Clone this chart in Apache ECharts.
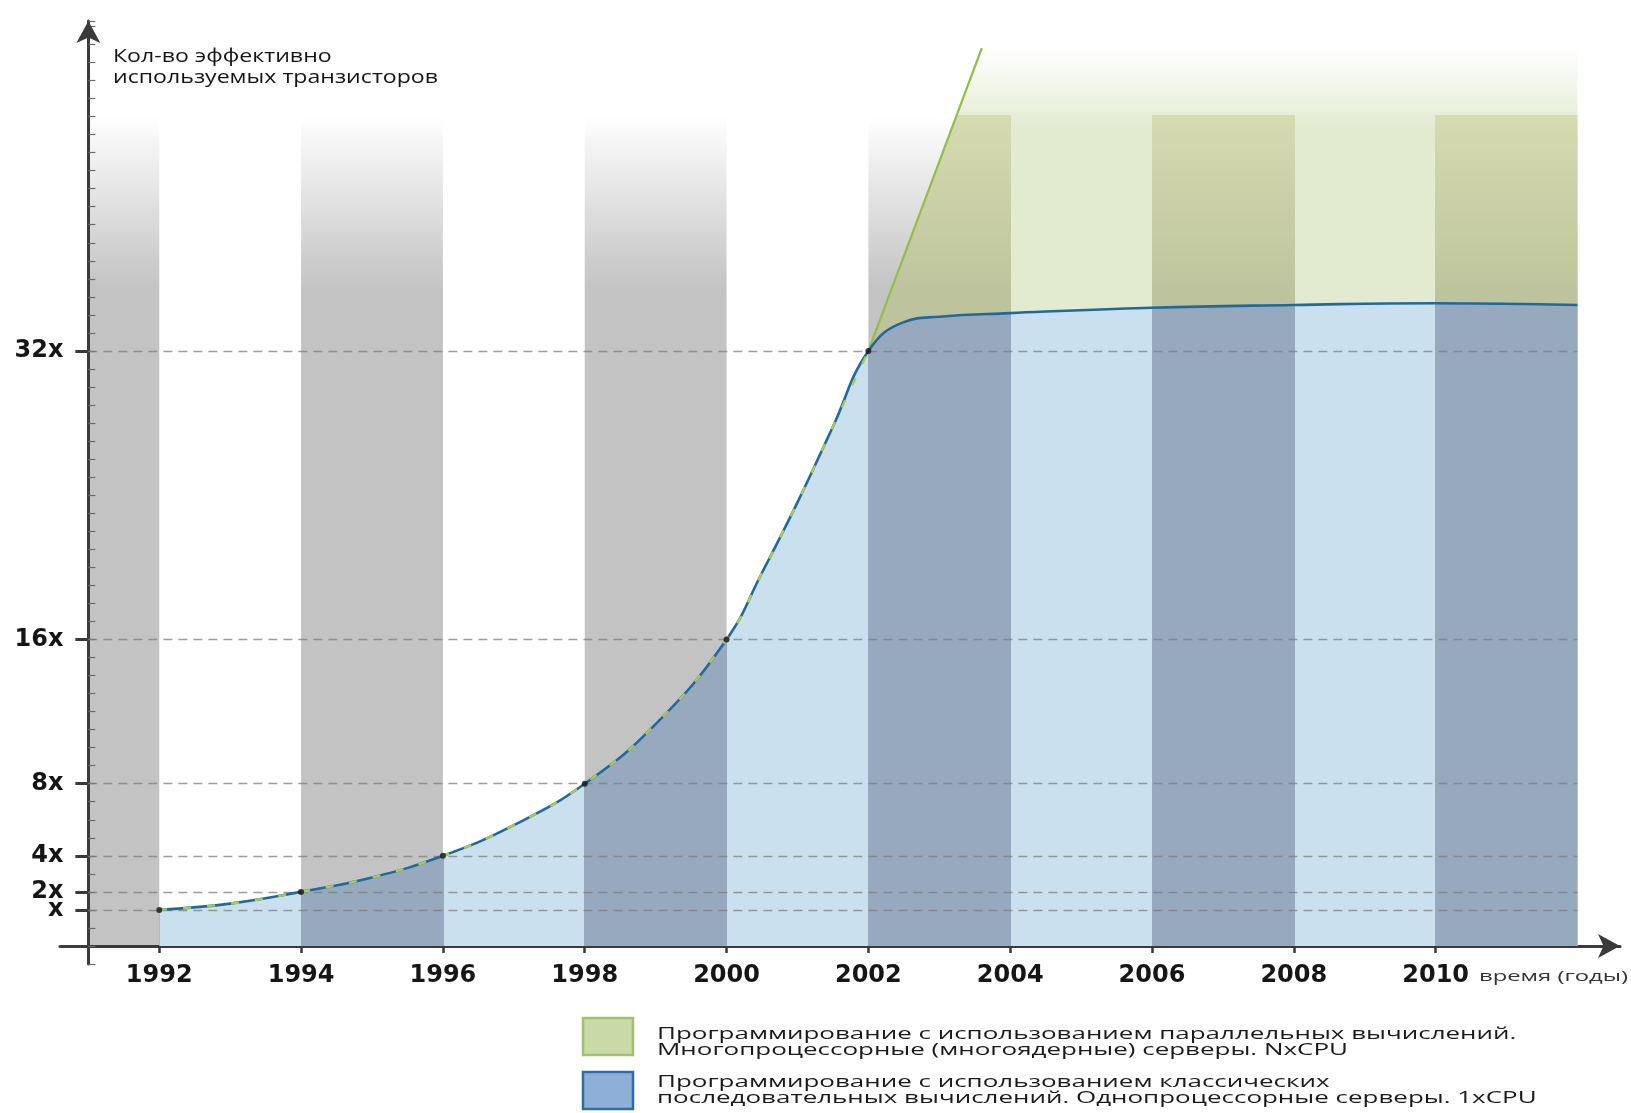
<!DOCTYPE html>
<html>
<head>
<meta charset="utf-8">
<script src="https://cdn.jsdelivr.net/npm/echarts@6/dist/echarts.min.js"></script>
<style>
  html, body { margin: 0; padding: 0; background: #fff; }
  #chart { width: 1631px; height: 1113px; }
</style>
</head>
<body>
<div id="chart"></div>
<script>
// rise of single-CPU curve (doubling every 2 years)
const riseYears = [1992, 1993, 1994, 1995, 1996, 1997, 1998, 1999, 2000, 2000.5, 2001, 2001.5, 2002]
const riseValues = [1, 1.35, 2, 2.8, 4, 5.7, 8, 11.3, 16, 19.7, 23.6, 27.8, 32]
// plateau after 2002 (1xCPU)
const plateauYears = [2002.5, 2003, 2004, 2006, 2008, 2010, 2012]
const plateauValues = [33.6, 33.9, 34.1, 34.4, 34.55, 34.65, 34.55]
// NxCPU line going up, then its area top
const multiYears = [2003.6, 2012]
const multiValues = [48.8, 48.8]
// black dots
const dotYears = [1992, 1994, 1996, 1998, 2000, 2002]
// shaded bands [from, to]
const bandStarts = [1991, 1994, 1998, 2002, 2006, 2010]
const bandEnds = [1992, 1996, 2000, 2004, 2008, 2012]
const bandTop = 45.1
// ticks
const yearTicks = [1992, 1994, 1996, 1998, 2000, 2002, 2004, 2006, 2008, 2010]
const yTickValues = [1, 2, 4, 8, 16, 32]
const yTickLabels = ['x', '2x', '4x', '8x', '16x', '32x']

const legendLines = [
  'Программирование с использованием параллельных вычислений.',
  'Многопроцессорные (многоядерные) серверы. NxCPU',
  'Программирование с использованием классических',
  'последовательных вычислений. Однопроцессорные серверы. 1xCPU',
]
const yTitle = ['Кол-во эффективно', 'используемых транзисторов']
const xName = 'время (годы)'

const X_MIN = 1990.6, X_MAX = 2012.6, AXIS_YEAR = 1991
const Y_MIN = -2, Y_MAX = 50.3, BASE = -1
const GRID = { left: 60, top: 21, right: 11, bottom: 149 }

const el = document.getElementById('chart')
const chart = echarts.init(el)
const W = chart.getWidth(), H = chart.getHeight()
const gridW = W - GRID.left - GRID.right
const gridH = H - GRID.top - GRID.bottom
const pxX = x => GRID.left + (x - X_MIN) / (X_MAX - X_MIN) * gridW
const pxY = v => GRID.top + (Y_MAX - v) / (Y_MAX - Y_MIN) * gridH
const xOffset = -(pxY(Y_MIN) - pxY(BASE))
const yOffset = -(pxX(AXIS_YEAR) - pxX(X_MIN))

const riseData = riseYears.map((y, i) => [y, riseValues[i]])
const blueData = riseData.concat(plateauYears.map((y, i) => [y, plateauValues[i]]))
const lastRise = riseData[riseData.length - 1]
const greenAreaData = [lastRise].concat(multiYears.map((y, i) => [y, multiValues[i]]))
const greenUpData = [lastRise, [multiYears[0], multiValues[0]]]
const dotData = dotYears.map(y => [y, riseValues[riseYears.indexOf(y)]])
const bandData = bandStarts.map((s, i) => [s, bandEnds[i], bandTop, BASE])

const axisColor = '#3a3a3a'
const labelFont = { fontFamily: 'DejaVu Sans', fontWeight: 'bold', fontSize: 24, color: '#161616' }
const SMOOTH = 0.45
const LIGHT_BLUE = '#cbe0ee', DARK_BLUE = '#97a9bf'
const LIGHT_GREEN = 'rgba(226,235,208,1)'

// stretch text to the widths seen in the picture
const mctx = document.createElement('canvas').getContext('2d')
function fit(text, font, width) {
  mctx.font = font
  return width / mctx.measureText(text).width
}
const titleFont = '18px "Open Sans"'
const titleScale = fit(yTitle[1], titleFont, 325)
const legendFont = '17px "Open Sans"'
const legendScale = (fit(legendLines[0], legendFont, 856) + fit(legendLines[3], legendFont, 883)) / 2
const nameFont = '15px "Open Sans"'
const nameScale = fit(xName, nameFont, 149)

function textEl(text, x, y, font, scale, color) {
  return {
    type: 'text', x: x, y: y, scaleX: scale, silent: true,
    style: { text: text, x: 0, y: 0, font: font, fill: color, align: 'left', verticalAlign: 'middle',
      textAlign: 'left', textVerticalAlign: 'middle' },
  }
}

const graphics = [
  textEl(yTitle[0], 113, 57, titleFont, titleScale, '#151515'),
  textEl(yTitle[1], 113, 78, titleFont, titleScale, '#151515'),
  textEl(xName, 1479, 977, nameFont, nameScale, '#333333'),
  { type: 'rect', shape: { x: 583, y: 1018, width: 50, height: 37 },
    style: { fill: '#c9d9a8', stroke: '#a2c06e', lineWidth: 2.5 } },
  { type: 'rect', shape: { x: 583, y: 1072, width: 50, height: 37 },
    style: { fill: '#8fb0d6', stroke: '#2c6ea5', lineWidth: 2.5 } },
  textEl(legendLines[0], 657, 1034, legendFont, legendScale, '#1a1a1a'),
  textEl(legendLines[1], 657, 1050, legendFont, legendScale, '#1a1a1a'),
  textEl(legendLines[2], 657, 1082, legendFont, legendScale, '#1a1a1a'),
  textEl(legendLines[3], 657, 1098, legendFont, legendScale, '#1a1a1a'),
]

// y labels split over two axes so that close labels (x / 2x) are both kept
const labelsA = yTickValues.filter((v, i) => i % 2 === 0)
const labelsB = yTickValues.filter((v, i) => i % 2 === 1)
const yLabel = v => yTickLabels[yTickValues.indexOf(v)] || ''

// one hidden grid per band, same scale as the main grid, used to clip the darker band fills
const grids = [{ left: GRID.left, top: GRID.top, right: GRID.right, bottom: GRID.bottom, outerBoundsMode: 'none' }]
const xAxes = [{
  type: 'value', min: X_MIN, max: X_MAX, offset: xOffset,
  axisLine: { show: true, onZero: false, symbol: ['none', 'arrow'], symbolSize: [18, 22],
    lineStyle: { color: axisColor, width: 3 } },
  axisTick: { show: true, customValues: yearTicks, length: 7, lineStyle: { color: axisColor, width: 2.5 } },
  axisLabel: { customValues: yearTicks, margin: 18, hideOverlap: false, ...labelFont, formatter: v => String(v) },
  splitLine: { show: false },
}]
const yAxes = [
  {
    type: 'value', position: 'left', min: Y_MIN, max: Y_MAX, offset: yOffset,
    axisLine: { show: true, onZero: false, symbol: ['none', 'arrow'], symbolSize: [18, 22],
      lineStyle: { color: axisColor, width: 3 } },
    axisTick: { show: true, customValues: yTickValues, length: 13, lineStyle: { color: axisColor, width: 3 } },
    axisLabel: { customValues: labelsA, margin: 25, showMinLabel: true, showMaxLabel: true,
      ...labelFont, formatter: yLabel },
    splitLine: { show: false },
  },
  {
    type: 'value', position: 'left', min: Y_MIN, max: Y_MAX, interval: 1, offset: yOffset,
    axisLine: { show: false },
    axisTick: { show: true, inside: true, length: 7, lineStyle: { color: '#6a6a6a', width: 1.2 } },
    axisLabel: { show: false },
    splitLine: { show: false },
  },
  {
    type: 'value', position: 'left', min: Y_MIN, max: Y_MAX, offset: yOffset,
    axisLine: { show: false },
    axisTick: { show: false },
    axisLabel: { customValues: labelsB, margin: 25, showMinLabel: true, showMaxLabel: true,
      ...labelFont, formatter: yLabel },
    splitLine: { show: false },
  },
]
const Y_FIRST_BAND = yAxes.length

// olive fill in the NxCPU region: transparent above the band top
const yTopPx = pxY(multiValues[0]), yBasePx = pxY(BASE)
const tBand = (pxY(bandTop) - yTopPx) / (yBasePx - yTopPx)
const oliveFill = new echarts.graphic.LinearGradient(0, yTopPx, 0, yBasePx, [
  { offset: 0, color: 'rgba(214,219,176,0)' },
  { offset: tBand, color: 'rgba(214,219,176,0)' },
  { offset: tBand, color: 'rgba(214,219,176,1)' },
  { offset: tBand + 0.2, color: 'rgba(189,195,156,1)' },
  { offset: 1, color: 'rgba(189,195,156,1)' },
], true)

const bandSeries = []
bandStarts.forEach((s, i) => {
  const e = bandEnds[i]
  grids.push({ left: pxX(s), width: pxX(e) - pxX(s), top: GRID.top, height: gridH, outerBoundsMode: 'none' })
  xAxes.push({ type: 'value', gridIndex: i + 1, min: s, max: e, show: false })
  yAxes.push({ type: 'value', gridIndex: i + 1, min: Y_MIN, max: Y_MAX, show: false })
  if (s >= lastRise[0]) {
    bandSeries.push({
      name: 'olive band ' + s, type: 'line', z: 2, xAxisIndex: i + 1, yAxisIndex: Y_FIRST_BAND + i,
      data: greenAreaData, symbol: 'none', smooth: false, clip: true, silent: true,
      lineStyle: { width: 0, opacity: 0 },
      areaStyle: { origin: BASE, opacity: 1, color: oliveFill },
    })
  }
  bandSeries.push({
    name: 'blue band ' + s, type: 'line', z: 4, xAxisIndex: i + 1, yAxisIndex: Y_FIRST_BAND + i,
    data: blueData, symbol: 'none', smooth: SMOOTH, clip: true, silent: true,
    lineStyle: { width: 0, opacity: 0 },
    areaStyle: { origin: BASE, opacity: 1, color: DARK_BLUE },
  })
})

chart.setOption({
  backgroundColor: '#ffffff',
  animation: false,
  grid: grids,
  xAxis: xAxes,
  yAxis: yAxes,
  series: [
    {
      name: 'grey bands', type: 'custom', z: 0, data: bandData, silent: true,
      encode: { x: [0, 1], y: [2, 3] },
      renderItem: function (params, api) {
        const p0 = api.coord([api.value(0), api.value(2)])
        const p1 = api.coord([api.value(1), api.value(3)])
        return {
          type: 'rect',
          shape: { x: p0[0], y: p0[1], width: p1[0] - p0[0], height: p1[1] - p0[1] },
          style: {
            fill: new echarts.graphic.LinearGradient(0, 0, 0, 1, [
              { offset: 0, color: '#ffffff' },
              { offset: 0.21, color: '#c4c3c3' },
              { offset: 1, color: '#c4c3c3' },
            ]),
          },
        }
      },
    },
    {
      name: 'NxCPU area', type: 'line', z: 1, data: greenAreaData, symbol: 'none', smooth: false,
      lineStyle: { width: 0, opacity: 0 },
      areaStyle: {
        origin: BASE, opacity: 1,
        color: new echarts.graphic.LinearGradient(0, 0, 0, 1, [
          { offset: 0, color: 'rgba(226,235,208,0)' },
          { offset: 0.09, color: LIGHT_GREEN },
          { offset: 1, color: LIGHT_GREEN },
        ]),
      },
    },
    {
      name: '1xCPU area', type: 'line', z: 3, data: blueData, symbol: 'none', smooth: SMOOTH,
      lineStyle: { width: 0, opacity: 0 },
      areaStyle: { origin: BASE, color: LIGHT_BLUE, opacity: 1 },
    },
    ...bandSeries,
    {
      name: 'NxCPU line', type: 'line', z: 5, data: greenUpData, symbol: 'none', smooth: false,
      lineStyle: { color: '#93bd4a', width: 2.2 },
    },
    {
      name: '1xCPU line', type: 'line', z: 6, data: blueData, symbol: 'none', smooth: SMOOTH,
      lineStyle: { color: '#22699a', width: 2.6 },
    },
    {
      name: 'NxCPU dashes', type: 'line', z: 7, data: riseData, symbol: 'none', smooth: SMOOTH,
      lineStyle: { color: '#a8c95c', width: 2.4, type: [8, 16] },
    },
    {
      name: 'dots', type: 'scatter', z: 8, data: dotData, symbol: 'circle', symbolSize: 6,
      itemStyle: { color: '#151515' }, silent: true,
      markLine: {
        silent: true, symbol: ['none', 'none'], animation: false,
        label: { show: false },
        lineStyle: { color: '#7d7d7d', type: [9, 6], width: 1.3, opacity: 0.75 },
        data: yTickValues.map(v => [{ coord: [AXIS_YEAR, v] }, { coord: [bandEnds[bandEnds.length - 1], v] }]),
      },
    },
  ],
  graphic: graphics,
})
</script>
</body>
</html>
